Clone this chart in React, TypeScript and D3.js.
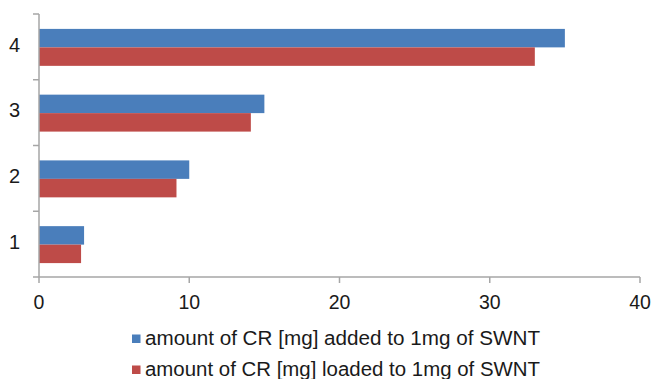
import React from "react";
import * as d3 from "d3";

const categories = ["1", "2", "3", "4"];
const addedValues = [3, 10, 15, 35];
const loadedValues = [2.8, 9.15, 14.1, 33];
const xTicks = [0, 10, 20, 30, 40];
const seriesNames = [
  "amount of CR [mg] added to 1mg of SWNT",
  "amount of CR [mg] loaded to 1mg of SWNT",
];
const colors = ["#4a7ebb", "#be4b48"];

export default function App() {
  const W = 654, H = 379;
  const left = 39, right = 640, top = 14, bottom = 277;
  const x = d3.scaleLinear().domain([0, 40]).range([left, right]);
  const y = d3.scaleBand().domain([...categories].reverse()).range([top, bottom]).paddingInner(0).paddingOuter(0);
  const bw = y.bandwidth();
  const barH = bw * 0.281;
  const series = [addedValues, loadedValues];
  const axisColor = "#a6a6a6";
  const font = "'Liberation Sans', Arial, sans-serif";
  const boundaries = d3.range(categories.length + 1).map((i) => top + i * bw);
  return (
    <svg width={W} height={H} style={{ position: "absolute", left: 0, top: 0, background: "#fff" }}>
      {series.map((vals, si) =>
        categories.map((c, i) => {
          const yc = (y(c) as number) + bw / 2 + 0.5;
          return (
            <rect key={`${si}-${c}`} x={x(0)} y={yc - barH + si * barH} width={x(vals[i]) - x(0)} height={barH} fill={colors[si]} />
          );
        })
      )}
      <line x1={left} x2={left} y1={top} y2={bottom} stroke={axisColor} strokeWidth={1.5} />
      <line x1={left} x2={right} y1={bottom} y2={bottom} stroke={axisColor} strokeWidth={1.5} />
      {boundaries.map((b, i) => (
        <line key={"yt" + i} x1={left - 6} x2={left} y1={b} y2={b} stroke={axisColor} strokeWidth={1.5} />
      ))}
      {xTicks.map((t) => (
        <line key={"xt" + t} x1={x(t)} x2={x(t)} y1={bottom} y2={bottom + 6} stroke={axisColor} strokeWidth={1.5} />
      ))}
      {categories.map((c) => (
        <text key={"yl" + c} x={14.5} y={(y(c) as number) + bw / 2 + 4.7} textAnchor="middle" fontFamily={font} fontSize={20} fill="#1a1a1a">{c}</text>
      ))}
      {xTicks.map((t) => (
        <text key={"xl" + t} x={x(t)} y={308.5} textAnchor="middle" fontFamily={font} fontSize={19.5} fill="#1a1a1a">{t}</text>
      ))}
      {seriesNames.map((n, i) => (
        <g key={n}>
          <rect x={132} y={334.5 + i * 31} width={8.5} height={8.5} fill={colors[i]} />
          <text x={145} y={345 + i * 31} fontFamily={font} fontSize={19.5} textLength={395} lengthAdjust="spacingAndGlyphs" fill="#1a1a1a">{n}</text>
        </g>
      ))}
    </svg>
  );
}
